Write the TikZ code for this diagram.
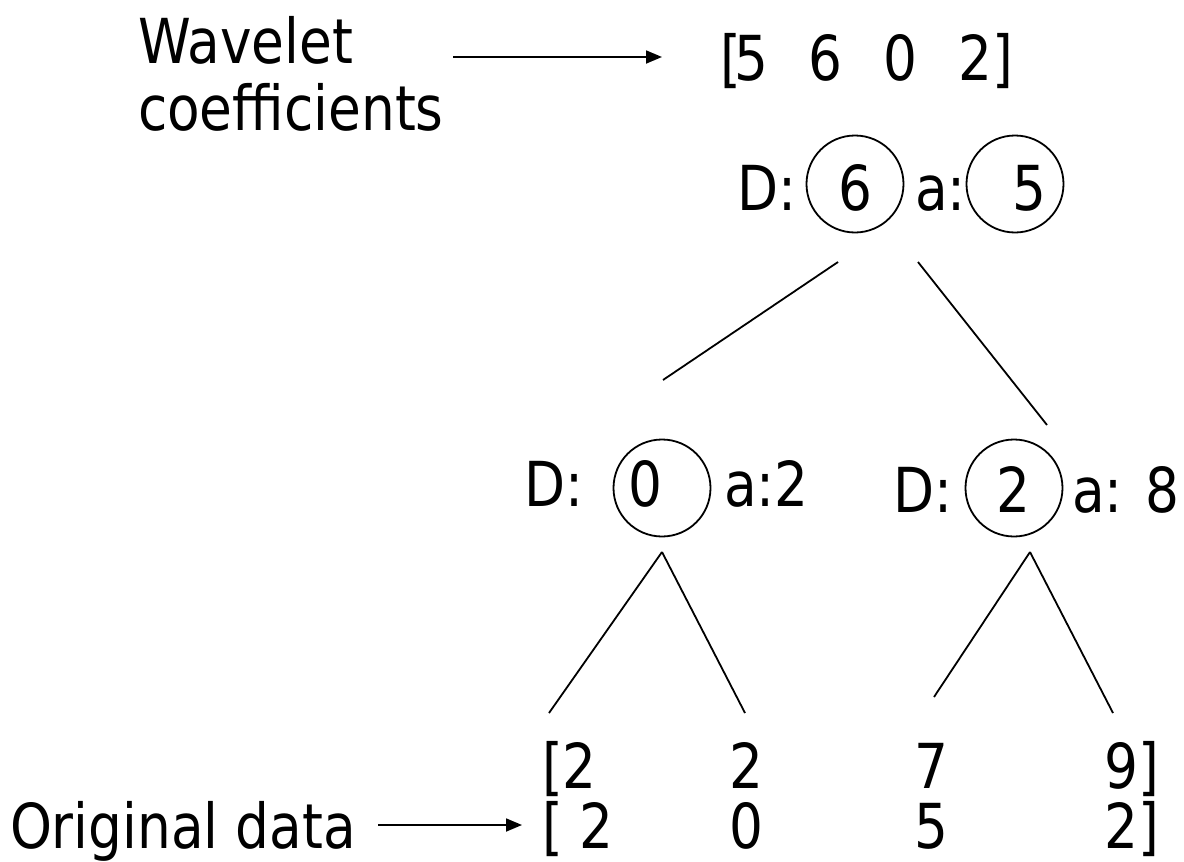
\documentclass[tikz,border=0pt]{standalone}
\usepackage{fontspec}
\setmainfont{DejaVu Sans}[FakeStretch=0.86]
\usetikzlibrary{arrows.meta}
\begin{document}
\begin{tikzpicture}[x=1pt,y=-1pt,
  txt/.style={inner sep=0pt, outer sep=0pt, anchor=base west, font=\fontsize{62}{74}\selectfont},
  ring/.style={draw, circle, line width=1.8pt, inner sep=0pt, minimum size=97pt},
  edge/.style={line width=1.8pt},
  pointer/.style={line width=1.8pt, -{Triangle[length=16pt,width=13pt]}}]
\useasboundingbox (0,0) rectangle (1184,862);

% labels on the left
\node[txt] (wav)  at (138,63)  {Wavelet};
\node[txt] (coef) at (138,130) {coefficients};
\node[txt] (orig) at (10,848)  {Original data};

% coefficient vector
\node[txt] (cvec) at (720,80) {\makebox[14pt][l]{[}\makebox[75pt][l]{5}\makebox[75pt][l]{6}\makebox[75pt][l]{0}2]};

% root: detail 6, average 5
\node[txt]  (d0)   at (737,210) {D:};
\node[ring] (r6)   at (855,184) {};
\node[txt]  (v6)   at (838,210) {6};
\node[txt]  (a0)   at (915,210) {a:};
\node[ring] (r5)   at (1015,184) {};
\node[txt]  (v5)   at (1012,210) {5};

% level 1, left: detail 0, average 2
\node[txt]  (d1)   at (524,506) {D:};
\node[ring] (r0)   at (662,488) {};
\node[txt]  (v0)   at (628,506) {0};
\node[txt]  (a1)   at (724,506) {a:2};

% level 1, right: detail 2, average 8
\node[txt]  (d2)   at (893,512) {D:};
\node[ring] (r2)   at (1014,488) {};
\node[txt]  (v2)   at (996,512) {2};
\node[txt]  (a2)   at (1072,512) {a: 8};

% data rows
\node[txt] (row1) at (542,788) {\makebox[188pt][l]{[2}\makebox[185pt][l]{2}\makebox[190pt][l]{7}9]};
\node[txt] (row2) at (542,848) {\makebox[188pt][l]{[ 2}\makebox[185pt][l]{0}\makebox[190pt][l]{5}2]};

% end points of the tree edges and pointers
\coordinate (rootL) at (838,262);
\coordinate (rootR) at (918,262);
\coordinate (lTop)  at (663,380);
\coordinate (rTop)  at (1047,425);
\coordinate (lApex) at (662,552);
\coordinate (rApex) at (1030,552);
\coordinate (leaf1) at (549,713);
\coordinate (leaf2) at (745,713);
\coordinate (leaf3) at (934,697);
\coordinate (leaf4) at (1113,713);
\coordinate (wTail) at (453,57);
\coordinate (wHead) at (662,57);
\coordinate (oTail) at (378,825);
\coordinate (oHead) at (522,825);

\draw[edge] (rootL) -- (lTop);
\draw[edge] (rootR) -- (rTop);
\draw[edge] (lApex) -- (leaf1);
\draw[edge] (lApex) -- (leaf2);
\draw[edge] (rApex) -- (leaf3);
\draw[edge] (rApex) -- (leaf4);

\draw[pointer] (wTail) -- (wHead);
\draw[pointer] (oTail) -- (oHead);
\end{tikzpicture}
\end{document}
